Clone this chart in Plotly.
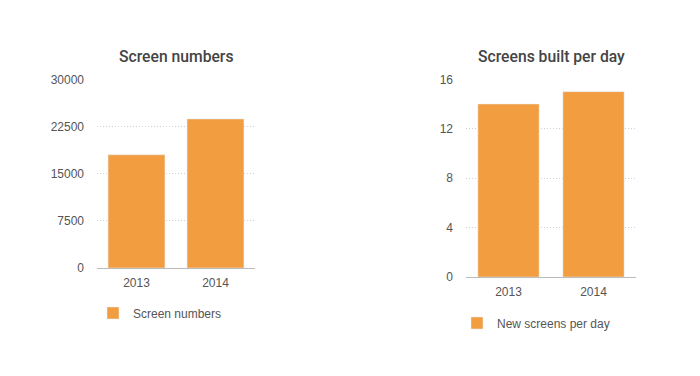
import plotly.graph_objects as go

years = ["2013", "2014"]
screen_numbers = [18000, 23700]
screens_per_day = [14, 15]
left_ticks = [0, 7500, 15000, 22500, 30000]
right_ticks = [0, 4, 8, 12, 16]

# page body has an 8px margin, so the figure is drawn at an 8px offset
OFF = 8
W, H = 700 - 2 * OFF, 376 - 2 * OFF
BAR = "#F39D41"
FONT = "Liberation Sans, Arial, sans-serif"
TITLE_FONT = "Roboto, Liberation Sans, Arial, sans-serif"

def px(x):
    return (x - OFF) / W

def py(y):
    return 1 - (y - OFF) / H

fig = go.Figure()
fig.add_trace(go.Bar(x=years, y=screen_numbers, name="Screen numbers", marker_color=BAR,
                     xaxis="x", yaxis="y", legend="legend", showlegend=True, hoverinfo="x+y"))
fig.add_trace(go.Bar(x=years, y=screens_per_day, name="New screens per day", marker_color=BAR,
                     xaxis="x2", yaxis="y2", legend="legend2", showlegend=True, hoverinfo="x+y"))

xaxis_common = dict(
    showgrid=False, showline=True, linecolor="#BBBBBB", linewidth=1,
    zeroline=False, ticks="", fixedrange=True, automargin=False,
    ticklabelstandoff=4,
    tickfont=dict(family=FONT, size=12, color="#555555"),
)
yaxis_common = dict(
    showgrid=True, gridcolor="#CFCFCF", griddash="1px,2px", gridwidth=1,
    zeroline=False, showline=False, ticks="", fixedrange=True, automargin=False,
    ticklabelstandoff=12,
    tickfont=dict(family=FONT, size=12, color="#555555"),
)

fig.update_layout(
    width=W, height=H,
    margin=dict(l=0, r=0, t=0, b=0, autoexpand=False),
    paper_bgcolor="white", plot_bgcolor="white",
    bargap=0.28,
    showlegend=True,
    font=dict(family=FONT, color="#555555"),
    xaxis=dict(domain=[px(97), px(255)], anchor="y", **xaxis_common),
    yaxis=dict(domain=[py(268), py(79.3)], anchor="x", range=[0, 30000],
               tickvals=left_ticks, ticktext=[str(t) for t in left_ticks], **yaxis_common),
    xaxis2=dict(domain=[px(466), px(636)], anchor="y2", **xaxis_common),
    yaxis2=dict(domain=[py(277), py(79.3)], anchor="x2", range=[0, 16],
                tickvals=right_ticks, ticktext=[str(t) for t in right_ticks], **yaxis_common),
    legend=dict(x=px(93), y=py(313), xanchor="left", yanchor="middle",
                font=dict(family=FONT, size=12, color="#555555"), bgcolor="rgba(0,0,0,0)"),
    legend2=dict(x=px(457), y=py(323), xanchor="left", yanchor="middle",
                 font=dict(family=FONT, size=12, color="#555555"), bgcolor="rgba(0,0,0,0)"),
    annotations=[
        dict(text="Screen numbers", x=px(176), y=py(57), xref="paper", yref="paper",
             showarrow=False, xanchor="center", yanchor="middle",
             font=dict(family=TITLE_FONT, size=15.7, color="#444444", weight=500)),
        dict(text="Screens built per day", x=px(551), y=py(57), xref="paper", yref="paper",
             showarrow=False, xanchor="center", yanchor="middle",
             font=dict(family=TITLE_FONT, size=15.7, color="#444444", weight=500)),
    ],
)

fig.write_html("out.html")
